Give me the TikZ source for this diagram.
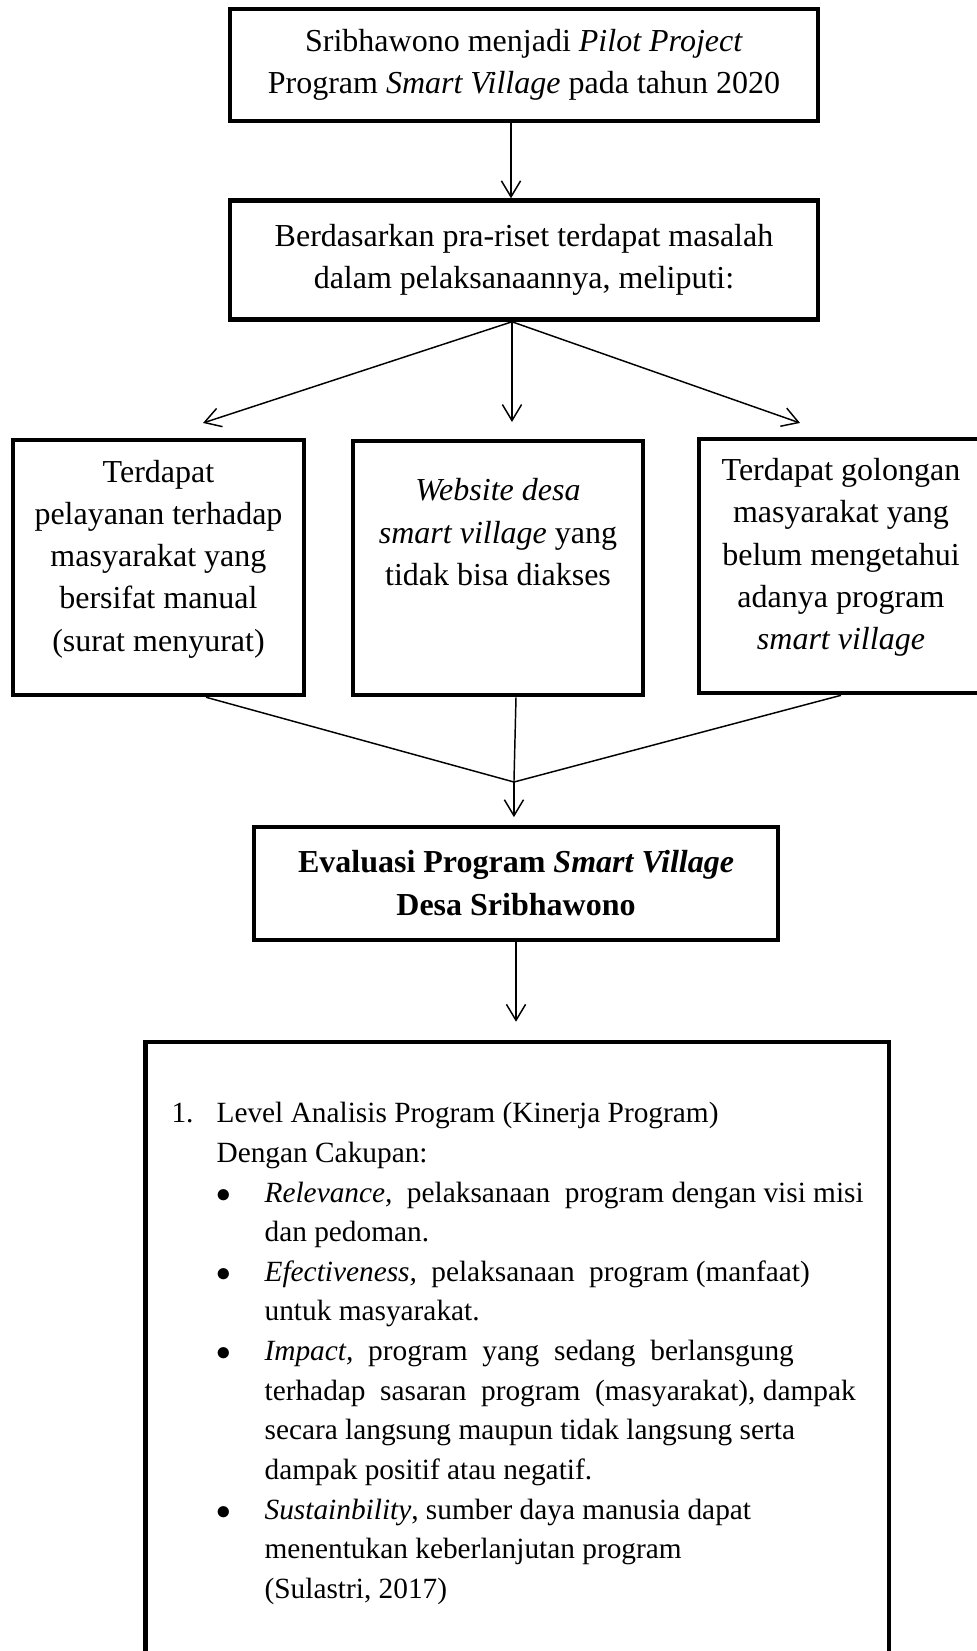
\documentclass[tikz,border=0pt]{standalone}
\usepackage{fontspec}
\setmainfont{Liberation Serif}
\usetikzlibrary{positioning,arrows.meta,calc}
\newcommand{\butir}[1]{\hspace*{16.8pt}\makebox[18.1pt][l]{$\bullet$}#1}
\newcommand{\lanjut}{\hspace*{34.9pt}}

\begin{document}
\begin{tikzpicture}[
  font=\fontsize{12}{15.8}\selectfont,
  >={Straight Barb[length=6pt,width=7.2pt]},
  kotak/.style={draw,line width=1.7pt,inner sep=0pt,align=center},
  isi/.style={inner sep=0pt,align=center,anchor=north},
  garis/.style={line width=0.55pt},
  panah/.style={->,line width=0.55pt},
]
\useasboundingbox (0,0) rectangle (12.873,-21.754);
\clip (0,0) rectangle (12.873,-21.754);

% ===== LATAR =====
\node[kotak,minimum width=7.747cm,minimum height=1.476cm] (pilot) at (6.904,-0.856)
  {Sribhawono menjadi \textit{Pilot Project}\\Program \textit{Smart Village} pada tahun 2020};
\node[kotak,minimum width=7.747cm,minimum height=1.568cm] (praris) at (6.904,-3.426)
  {Berdasarkan pra-riset terdapat masalah\\dalam pelaksanaannya, meliputi:};
\draw[panah] ([xshift=-0.171cm]pilot.south) -- ([xshift=-0.171cm]praris.north);

% ===== MASALAH =====
\node[kotak,minimum width=3.834cm,minimum height=3.360cm] (manual) at (2.088,-7.477) {};
\node[isi] (manualtxt) at ([yshift=-0.29cm]manual.north)
  {Terdapat\\pelayanan terhadap\\masyarakat yang\\bersifat manual\\(surat menyurat)};
\node[kotak,minimum width=3.821cm,minimum height=3.347cm] (web) at (6.562,-7.484) {};
\node[isi] (webtxt) at ([yshift=-0.52cm]web.north)
  {\textit{Website desa}\\\textit{smart village} yang\\tidak bisa diakses};
\node[kotak,minimum width=3.742cm,minimum height=3.347cm] (sosial) at (11.081,-7.458) {};
\node[isi] (sosialtxt) at ([yshift=-0.28cm]sosial.north)
  {Terdapat golongan\\masyarakat yang\\belum mengetahui\\adanya program\\\textit{smart village}};

\coordinate (cabang) at ([xshift=-0.158cm]praris.south);
\coordinate (ujungL) at (2.675,-5.573);
\coordinate (ujungM) at (6.746,-5.560);
\coordinate (ujungR) at (10.541,-5.573);
\draw[panah] (cabang) -- (ujungL);
\draw[panah] (cabang) -- (ujungM);
\draw[panah] (cabang) -- (ujungR);

% ===== EVALUASI =====
\coordinate (gabung) at (6.772,-10.304);
\draw[garis] ([xshift=0.626cm]manual.south) -- (gabung);
\draw[garis] ([xshift=0.237cm]web.south) -- (gabung);
\draw[garis] (sosial.south) -- (gabung);
\node[kotak,minimum width=6.904cm,minimum height=1.489cm,
      font=\fontsize{12}{16.1}\selectfont\bfseries] (eval) at (6.799,-11.641)
  {Evaluasi Program \textit{Smart Village}\\Desa Sribhawono};
\draw[panah,shorten >=0.1cm] (gabung) -- (gabung |- eval.north);

% ===== KAJIAN =====
\node[kotak,minimum width=9.796cm,minimum height=9.223cm] (kajian) at (6.815,-18.341) {};
\draw[panah,shorten >=0.237cm] (eval.south) -- (eval.south |- kajian.north);
\node[inner sep=0pt,align=left,anchor=north west,font=\fontsize{11}{14.85}\selectfont]
  (daftar) at (2.253,-14.52) {%
  \makebox[16.9pt][l]{1.}Level Analisis Program (Kinerja Program)\\
  \hspace*{16.9pt}Dengan Cakupan:\\
  \butir{\makebox[224.6pt][s]{\textit{Relevance,}\ \ pelaksanaan\ \ program dengan visi misi}}\\
  \lanjut dan pedoman.\\
  \butir{\makebox[204.4pt][s]{\textit{Efectiveness,}\ \ pelaksanaan\ \ program (manfaat)}}\\
  \lanjut untuk masyarakat.\\
  \butir{\makebox[198.4pt][s]{\textit{Impact,}\ \ program\ \ yang\ \ sedang\ \ berlansgung}}\\
  \lanjut\makebox[221.6pt][s]{terhadap\ \ sasaran\ \ program\ \ (masyarakat), dampak}\\
  \lanjut secara langsung maupun tidak langsung serta\\
  \lanjut dampak positif atau negatif.\\
  \butir{\textit{Sustainbility}, sumber daya manusia dapat}\\
  \lanjut menentukan keberlanjutan program\\
  \lanjut (Sulastri, 2017)};

\end{tikzpicture}
\end{document}
